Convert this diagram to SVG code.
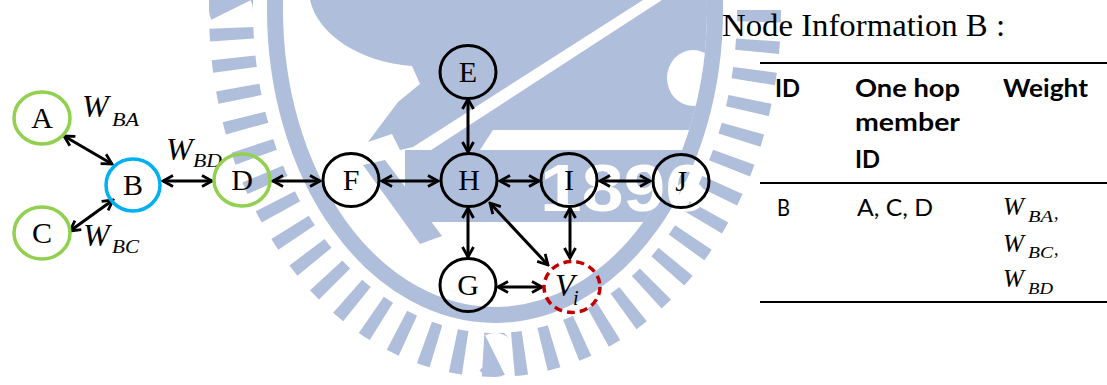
<svg xmlns="http://www.w3.org/2000/svg" width="1107" height="385" viewBox="0 0 1107 385">
<style>
.wm{fill:#afbedb}
.node{fill:none;stroke:#000;stroke-width:3}
.green{stroke:#92d050;stroke-width:3.5}
.blue{stroke:#00b0f0;stroke-width:3.5}
.red{stroke:#c00000;stroke-width:3.5;stroke-dasharray:8 5}
.lbl{font-family:"Liberation Serif",serif;font-size:30px;text-anchor:middle;fill:#000}
.mi{font-family:"Liberation Serif",serif;font-style:italic;fill:#000}
.edge{stroke:#000;stroke-width:3;fill:none;marker-start:url(#ah);marker-end:url(#ah)}
.hd{font-family:Lato,"Liberation Sans",sans-serif;font-weight:bold;font-size:24px;fill:#000}
.bd{font-family:Lato,"Liberation Sans",sans-serif;font-size:23px;fill:#000}
.rule{stroke:#000;stroke-width:2}
</style>
<defs>
<marker id="ah" viewBox="0 0 14 14" refX="12" refY="7" markerWidth="14" markerHeight="14" markerUnits="userSpaceOnUse" orient="auto-start-reverse">
<path d="M2,1.5 L12,7 L2,12.5" fill="none" stroke="#000" stroke-width="2.8"/>
</marker>
<clipPath id="inner"><ellipse cx="495" cy="10" rx="212" ry="297"/></clipPath>
</defs>
<rect width="1107" height="385" fill="#fff"/>
<g id="watermark">
<ellipse cx="495" cy="10" rx="264" ry="345" fill="none" stroke="#afbedb" stroke-width="44" pathLength="640" stroke-dasharray="4 6"/>
<ellipse cx="495" cy="10" rx="220" ry="305" fill="none" stroke="#afbedb" stroke-width="16"/>
<g clip-path="url(#inner)">
<path class="wm" d="M310,0 C318,35 360,62 412,66 L420,84 L398,102 L368,142 L392,134 L400,150 L413,147 L643,0 Z"/>
<path class="wm" d="M428,152 L662,0 L740,0 L740,130 L493,130 L480,150 Z"/>
<rect class="wm" x="405" y="150" width="335" height="72"/>
<path class="wm" d="M363,165 L385,160 L442,236 L420,244 Z"/>
<ellipse cx="693" cy="78" rx="26" ry="28" fill="#fff"/>
<rect x="493" y="130" width="250" height="20" fill="#fff"/>
</g>
<text x="540" y="211" font-family="'Liberation Sans',sans-serif" font-weight="bold" font-size="66" fill="#fff" textLength="167" lengthAdjust="spacingAndGlyphs">1896</text>
</g>
<g id="connectors">
<line class="edge" x1="64" y1="136" x2="112" y2="164"/>
<line class="edge" x1="113" y1="200" x2="70" y2="231"/>
<line class="edge" x1="163" y1="181" x2="212" y2="181"/>
<line class="edge" x1="273" y1="181" x2="320" y2="181"/>
<line class="edge" x1="382" y1="181" x2="438" y2="181"/>
<line class="edge" x1="500" y1="181" x2="539" y2="181"/>
<line class="edge" x1="600" y1="181" x2="650" y2="181"/>
<line class="edge" x1="468" y1="99" x2="468" y2="152"/>
<line class="edge" x1="468" y1="208" x2="468" y2="257"/>
<line class="edge" x1="490" y1="203" x2="548" y2="265"/>
<line class="edge" x1="570" y1="208" x2="570" y2="258"/>
<line class="edge" x1="498" y1="287" x2="542" y2="287"/>
</g>
<g id="edge-labels">
<text class="mi" x="82" y="117" font-size="32">W</text>
<text class="mi" x="112" y="126" font-size="19" textLength="27" lengthAdjust="spacingAndGlyphs">BA</text>
<text class="mi" x="166" y="160" font-size="32">W</text>
<text class="mi" x="193" y="167" font-size="19" textLength="29" lengthAdjust="spacingAndGlyphs">BD</text>
<text class="mi" x="83" y="246" font-size="32">W</text>
<text class="mi" x="112" y="253" font-size="19" textLength="27" lengthAdjust="spacingAndGlyphs">BC</text>
</g>
<g id="node-A"><ellipse class="node green" cx="42" cy="118" rx="28" ry="26"/><text class="lbl" x="42" y="128">A</text></g>
<g id="node-B"><ellipse class="node blue" cx="133" cy="185" rx="27" ry="26"/><text class="lbl" x="133" y="195">B</text></g>
<g id="node-C"><ellipse class="node green" cx="42" cy="233" rx="28" ry="26"/><text class="lbl" x="42" y="243">C</text></g>
<g id="node-D"><ellipse class="node green" cx="242" cy="180" rx="28" ry="26"/><text class="lbl" x="242" y="190">D</text></g>
<g id="node-F"><ellipse class="node" cx="351" cy="180" rx="28" ry="26.5"/><text class="lbl" x="351" y="190">F</text></g>
<g id="node-E"><ellipse class="node" cx="468" cy="72" rx="28" ry="26.5"/><text class="lbl" x="468" y="82">E</text></g>
<g id="node-H"><ellipse class="node" cx="469" cy="180" rx="28" ry="26.5"/><text class="lbl" x="469" y="190">H</text></g>
<g id="node-I"><ellipse class="node" cx="569" cy="180" rx="28" ry="26.5"/><text class="lbl" x="569" y="190">I</text></g>
<g id="node-J"><ellipse class="node" cx="681" cy="181" rx="28" ry="26.5"/><text class="lbl" x="681" y="191">J</text></g>
<g id="node-G"><ellipse class="node" cx="468" cy="285" rx="28" ry="26.5"/><text class="lbl" x="468" y="295">G</text></g>
<g id="node-Vi"><ellipse class="node red" cx="572" cy="287" rx="28" ry="25.5"/><text class="mi" x="555" y="296" font-size="32">V</text><text class="mi" x="573" y="305" font-size="20">i</text></g>
<g id="table">
<text x="722" y="36" font-family="'Liberation Serif',serif" font-size="32.5" fill="#000" textLength="283" lengthAdjust="spacingAndGlyphs">Node Information B :</text>
<line class="rule" x1="760" y1="63" x2="1107" y2="63"/>
<line class="rule" x1="760" y1="183" x2="1107" y2="183"/>
<line class="rule" x1="760" y1="302" x2="1107" y2="302"/>
<text class="hd" x="775" y="97" textLength="25" lengthAdjust="spacingAndGlyphs">ID</text>
<text class="hd" x="855" y="97" textLength="105" lengthAdjust="spacingAndGlyphs">One hop</text>
<text class="hd" x="855" y="131" textLength="105" lengthAdjust="spacingAndGlyphs">member</text>
<text class="hd" x="855" y="168" textLength="25" lengthAdjust="spacingAndGlyphs">ID</text>
<text class="hd" x="1003" y="97" textLength="85" lengthAdjust="spacingAndGlyphs">Weight</text>
<text class="bd" x="777" y="216" textLength="13" lengthAdjust="spacingAndGlyphs">B</text>
<text class="bd" x="857" y="216" textLength="76" lengthAdjust="spacingAndGlyphs">A, C, D</text>
<text class="mi" x="1003" y="215" font-size="25">W</text>
<text class="mi" x="1028" y="222" font-size="16" textLength="25" lengthAdjust="spacingAndGlyphs">BA</text>
<text class="mi" x="1054" y="219" font-size="18">,</text>
<text class="mi" x="1003" y="252" font-size="25">W</text>
<text class="mi" x="1028" y="258" font-size="16" textLength="25" lengthAdjust="spacingAndGlyphs">BC</text>
<text class="mi" x="1054" y="255" font-size="18">,</text>
<text class="mi" x="1003" y="287" font-size="25">W</text>
<text class="mi" x="1028" y="294" font-size="16" textLength="25" lengthAdjust="spacingAndGlyphs">BD</text>
</g>
</svg>
